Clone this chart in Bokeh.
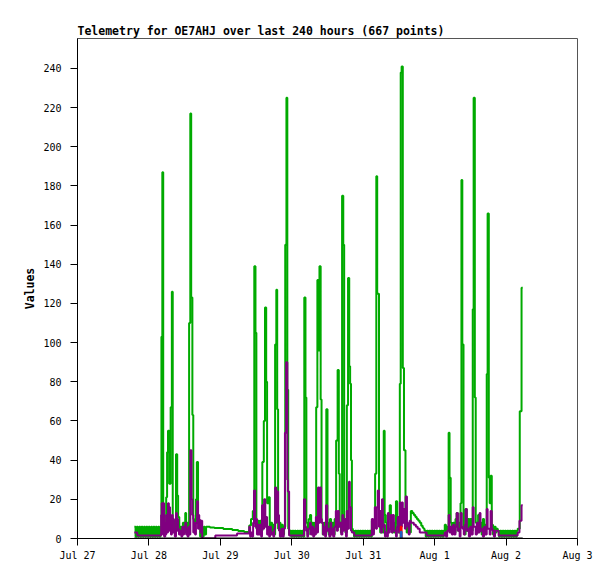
from datetime import datetime, timedelta
import pandas as pd
from bokeh.plotting import figure
from bokeh.models import Range1d, FixedTicker, ColumnDataSource
from bokeh.embed import file_html
from bokeh.resources import INLINE

# ---------------- data (hours after Jul 27 00:00, value) ----------------
base_date = "2024-07-27"
tick_dates = ["2024-07-27", "2024-07-28", "2024-07-29", "2024-07-30",
              "2024-07-31", "2024-08-01", "2024-08-02", "2024-08-03"]
tick_labels = ["Jul 27", "Jul 28", "Jul 29", "Jul 30", "Jul 31", "Aug 1", "Aug 2", "Aug 3"]
y_ticks = [0, 20, 40, 60, 80, 100, 120, 140, 160, 180, 200, 220, 240]

green_points = [
    (19.1, 6), (19.5, 1), (19.9, 6), (20.3, 1), (20.7, 6), (21.1, 1), (21.5, 6), (21.9, 1),
    (22.3, 6), (22.7, 1), (23.1, 6), (23.5, 1), (23.9, 6), (24.3, 1), (24.7, 6), (25.1, 1),
    (25.5, 6), (25.9, 1), (26.3, 6), (26.7, 1), (27.1, 6), (27.5, 1), (27.9, 6),
    (28.2, 103), (28.5, 187), (28.8, 5), (29.1, 2), (29.4, 6), (29.8, 21), (30.1, 44),
    (30.4, 55), (30.8, 28), (31.3, 67), (31.7, 126), (32.0, 9), (32.5, 3), (32.8, 7),
    (33.1, 43), (33.5, 22), (33.8, 11), (34.2, 3), (34.6, 6), (35.0, 2), (35.4, 8),
    (35.8, 3), (36.2, 13), (36.5, 4), (36.9, 8), (37.2, 2), (37.5, 110), (37.9, 217),
    (38.2, 123), (38.6, 63), (38.9, 10), (39.2, 3), (39.5, 8), (39.8, 20), (40.1, 39),
    (40.5, 9.5), (40.9, 6), (41.2, 1), (41.6, 6), (42.0, 1), (42.4, 6), (42.8, 2), (43.2, 6),
    (44.5, 5.6), (46.0, 5.3), (49.0, 4.8), (52.0, 4.3), (54.0, 3.8), (56.0, 3.3),
    (57.7, 6.6), (58.3, 10), (58.9, 14), (59.4, 139), (59.8, 105), (60.1, 5), (60.5, 9),
    (60.9, 3), (61.3, 9), (61.7, 4), (62.1, 39), (62.6, 60), (63.0, 118), (63.4, 80),
    (63.7, 18), (64.2, 21), (64.6, 3), (65.0, 8), (65.4, 3), (65.8, 7), (66.1, 2), (66.4, 99),
    (66.8, 127), (67.1, 66), (67.4, 5), (67.8, 8), (68.2, 2), (68.6, 7), (69.0, 2), (69.4, 6),
    (69.8, 150), (70.2, 225), (70.5, 76), (70.8, 5), (71.1, 2),
    (71.4, 4), (71.8, 1), (72.2, 4), (72.6, 1), (73.0, 4), (73.4, 1), (73.8, 4), (74.2, 1),
    (74.6, 4), (75.0, 1), (75.4, 4), (75.8, 1),
    (76.2, 123), (76.6, 72), (76.9, 8), (77.3, 2), (77.7, 10), (78.1, 12), (78.5, 3),
    (78.9, 8), (79.3, 2), (79.7, 8), (80.2, 67), (80.6, 132), (80.9, 96), (81.3, 139),
    (81.7, 71), (82.0, 8), (82.4, 2), (82.8, 8), (83.2, 3), (83.6, 66), (84.0, 8), (84.4, 2),
    (84.8, 10), (85.2, 3), (85.6, 8), (86.0, 2), (86.4, 10), (86.9, 50), (87.4, 86),
    (87.8, 33), (88.1, 8), (88.5, 3), (88.9, 175), (89.3, 150), (89.6, 10), (90.0, 3),
    (90.5, 68), (90.9, 133), (91.3, 88), (91.6, 79), (91.9, 40), (92.2, 5),
    (92.5, 4), (92.9, 1), (93.3, 4), (93.7, 1), (94.1, 4), (94.5, 1), (94.9, 4), (95.3, 1),
    (95.7, 4), (96.1, 1), (96.5, 4), (96.9, 1), (97.3, 4), (97.7, 1), (98.1, 4), (98.5, 1),
    (98.9, 9), (99.3, 3), (99.6, 9), (100.0, 33), (100.4, 185), (100.7, 125), (101.3, 8),
    (101.7, 3), (102.1, 10), (102.5, 3), (102.9, 55), (103.2, 12), (103.6, 8), (104.0, 3),
    (104.4, 10), (104.9, 17), (105.3, 8), (105.7, 3), (106.1, 8), (106.5, 3), (107.0, 19),
    (107.4, 8), (107.8, 3), (108.3, 79), (108.6, 238), (108.9, 241), (109.3, 87),
    (109.7, 45), (110.2, 8), (110.6, 3), (111.0, 6), (111.5, 3),
    (112.0, 14), (112.5, 13), (113.0, 12), (113.5, 11), (114.0, 10), (114.5, 9), (115.0, 8),
    (115.5, 6.5), (116.0, 5.5), (116.3, 5),
    (116.6, 4), (117.0, 1), (117.4, 4), (117.8, 1), (118.2, 4), (118.6, 1), (119.0, 4),
    (119.4, 1), (119.8, 4), (120.2, 1), (120.6, 4), (121.0, 1), (121.4, 4), (121.8, 1),
    (122.2, 4), (122.6, 1), (123.0, 4),
    (123.4, 7), (123.8, 3), (124.2, 6), (124.7, 54), (125.0, 31), (125.4, 8), (125.8, 3),
    (126.2, 8), (126.6, 3), (127.0, 10), (127.4, 13), (127.8, 4), (128.2, 8), (128.7, 18),
    (129.0, 183), (129.3, 99), (129.7, 6), (130.0, 2), (130.4, 15), (130.8, 4), (131.2, 10),
    (131.6, 3), (132.0, 10), (132.4, 4), (132.8, 117), (133.1, 225), (133.5, 72), (133.8, 8),
    (134.2, 3), (134.6, 12), (135.0, 4), (135.4, 8), (135.8, 2), (136.2, 10), (136.6, 3),
    (137.0, 7), (137.5, 84), (137.8, 166), (138.2, 31), (138.5, 18), (138.8, 32), (139.2, 7),
    (139.6, 2), (140.0, 6), (140.5, 3), (140.8, 5),
    (141.2, 4), (141.6, 1), (142.0, 4), (142.4, 1), (142.8, 4), (143.2, 1), (143.6, 4),
    (144.0, 1), (144.4, 4), (144.8, 1), (145.2, 4), (145.6, 1), (146.0, 4), (146.4, 1),
    (146.8, 4), (147.2, 1), (147.6, 4),
    (147.9, 5), (148.6, 65), (149.2, 128), (149.6, 128),
]

purple_points = [
    (19.1, 3), (20.1, 1.5),
    (28.1, 12), (28.3, 18), (28.7, 2), (28.9, 18), (29.1, 1), (29.5, 8), (29.7, 2), (29.8, 12),
    (30.1, 3), (30.4, 18), (30.7, 4), (30.9, 16), (31.1, 8), (31.4, 2), (31.7, 12), (32.0, 3),
    (32.2, 10), (32.4, 5), (32.7, 1), (33.1, 13), (33.4, 4), (33.6, 10), (33.8, 5), (34.1, 2),
    (34.5, 4), (34.9, 1), (35.2, 6), (35.5, 2), (35.8, 6), (36.2, 8), (36.5, 2), (36.7, 5),
    (37.0, 1), (37.3, 6), (37.6, 2), (37.9, 45), (38.3, 20), (38.6, 12), (38.9, 3), (39.2, 8),
    (39.5, 2), (39.8, 8), (40.2, 19), (40.5, 5), (40.7, 12), (40.9, 9.5), (41.3, 3), (41.6, 9),
    (41.9, 0), (46.3, 1.5), (53.6, 2.5),
    (57.7, 6), (58.0, 1), (58.3, 3), (58.7, 1), (59.0, 8), (59.3, 24.5), (59.7, 6), (60.0, 10),
    (60.3, 2), (60.7, 7), (61.0, 2), (61.4, 7), (61.7, 1), (62.0, 17), (62.4, 5), (62.7, 20),
    (63.1, 6), (63.4, 11), (63.7, 2), (64.0, 6), (64.4, 1), (64.7, 6), (65.0, 2), (65.4, 3),
    (65.8, 1), (66.1, 5), (66.4, 26), (66.8, 8), (67.0, 24), (67.4, 12), (67.7, 4), (68.0, 1),
    (68.5, 5), (68.9, 1), (69.3, 5), (69.7, 54), (70.1, 90), (70.5, 30), (70.7, 24),
    (71.1, 1.5),
    (76.1, 20), (76.5, 6), (76.8, 4), (77.2, 1), (77.5, 5), (78.1, 8), (78.4, 2), (78.8, 6),
    (79.2, 1), (79.5, 5), (79.8, 2), (80.1, 11), (80.4, 3), (80.8, 26), (81.2, 8), (81.5, 26),
    (81.8, 10), (82.1, 8), (82.5, 2), (82.9, 6), (83.2, 1), (83.5, 17), (83.9, 4), (84.2, 5),
    (84.6, 1), (85.0, 8), (85.3, 2), (85.5, 5), (85.9, 1), (86.3, 6), (86.8, 14), (87.1, 4),
    (87.5, 14), (87.8, 6), (88.2, 8), (88.6, 2), (89.0, 12), (89.3, 4), (89.6, 10), (89.9, 6),
    (90.2, 1), (90.5, 14), (90.9, 5), (91.2, 29), (91.5, 16), (91.9, 4), (92.2, 3),
    (93.0, 1.5),
    (98.9, 10), (99.3, 2), (99.6, 8), (99.9, 16), (100.3, 5), (100.6, 16), (100.9, 24.5),
    (101.3, 6), (101.6, 14), (102.0, 3), (102.3, 20), (102.6, 6), (102.9, 7), (103.3, 1),
    (103.6, 3), (104.0, 1), (104.3, 13), (104.6, 3), (104.9, 5), (105.3, 12), (105.6, 3),
    (105.9, 12), (106.3, 4), (106.6, 4), (107.0, 1), (107.3, 6), (107.6, 11), (108.0, 3),
    (108.3, 18.4), (108.7, 6), (109.0, 18.4), (109.3, 8), (109.6, 15), (110.0, 5),
    (110.3, 21.5), (110.7, 8), (111.0, 6), (111.3, 2), (111.6, 9), (112.0, 8), (112.3, 8),
    (113.0, 7), (113.7, 6), (114.3, 5), (115.0, 3), (117.3, 1.5),
    (123.4, 3), (123.8, 1), (124.2, 4), (124.7, 12), (125.0, 3), (125.4, 6), (125.8, 2),
    (126.2, 7), (126.6, 2), (127.0, 6), (127.4, 13), (127.8, 4), (128.1, 5), (128.4, 1),
    (128.7, 13), (129.1, 6), (129.4, 5), (129.8, 2), (130.1, 7), (130.4, 15), (130.8, 4),
    (131.1, 5), (131.5, 1), (131.9, 6), (132.3, 2), (132.8, 16), (133.1, 6), (133.4, 6),
    (133.8, 2), (134.2, 8), (134.6, 3), (135.1, 13), (135.4, 4), (135.8, 5), (136.2, 1),
    (136.6, 6), (137.0, 2), (137.5, 15), (137.8, 5), (138.1, 5), (138.5, 2), (138.8, 14),
    (139.2, 5), (139.5, 4), (139.9, 1), (140.3, 4), (141.5, 1.5),
    (147.9, 3), (148.5, 9), (149.2, 17), (149.6, 17),
]

red_points = [(108.3, 0), (108.6, 6), (108.9, 0)]
blue_points = [(108.3, 0), (108.6, 3.4), (108.9, 0)]
black_points = [(19.1, 0), (149.6, 0)]

series = [
    (green_points, "#00aa00"),
    (purple_points, "#800080"),
    (red_points, "#ff0000"),
    (blue_points, "#1f5fbf"),
    (black_points, "#000000"),
]

# ---------------- figure ----------------
t0 = datetime.strptime(base_date, "%Y-%m-%d")
FONT = "DejaVu Sans Mono"

p = figure(width=610, height=573, x_axis_type="datetime",
           output_backend="svg", toolbar_location=None,
           x_range=Range1d(pd.Timestamp(tick_dates[0]), pd.Timestamp(tick_dates[-1])),
           y_range=Range1d(0, 255.3),
           min_border_left=77, min_border_right=33,
           min_border_top=38, min_border_bottom=35)

for pts, col in series:
    src = ColumnDataSource(dict(
        x=[t0 + timedelta(hours=h) for h, _ in pts],
        y=[v for _, v in pts]))
    p.step("x", "y", source=src, mode="after", line_width=2, line_color=col)

p.title.text = "Telemetry for OE7AHJ over last 240 hours (667 points)"
p.title.text_font = FONT
p.title.text_font_size = "11.5px"
p.title.text_font_style = "bold"
p.title.text_color = "black"
p.title.align = "left"
p.title.offset = 0
p.title.standoff = 2

p.xgrid.visible = False
p.ygrid.visible = False
p.outline_line_color = "#555555"
p.outline_line_width = 1
p.background_fill_color = "white"
p.border_fill_color = "white"

tick_ms = [int(pd.Timestamp(d).value // 10**6) for d in tick_dates]
p.xaxis.ticker = FixedTicker(ticks=tick_ms)
p.xaxis.major_label_overrides = {ms: lab for ms, lab in zip(tick_ms, tick_labels)}
p.yaxis.ticker = FixedTicker(ticks=y_ticks)
p.yaxis.axis_label = "Values"

for ax in (p.xaxis[0], p.yaxis[0]):
    ax.axis_line_color = "black"
    ax.axis_line_width = 1
    ax.major_tick_line_color = "black"
    ax.major_tick_out = 7
    ax.major_tick_in = 0
    ax.minor_tick_out = 0
    ax.minor_tick_in = 0
    ax.major_label_text_font = FONT
    ax.major_label_text_font_size = "10px"
    ax.major_label_text_color = "black"
    ax.axis_label_text_font = FONT
    ax.axis_label_text_font_size = "11.5px"
    ax.axis_label_text_font_style = "bold"
    ax.axis_label_text_color = "black"

p.yaxis.major_label_standoff = 9
p.yaxis.axis_label_standoff = 3
p.xaxis.major_label_standoff = 4

open("out.html", "w").write(file_html(p, INLINE))
